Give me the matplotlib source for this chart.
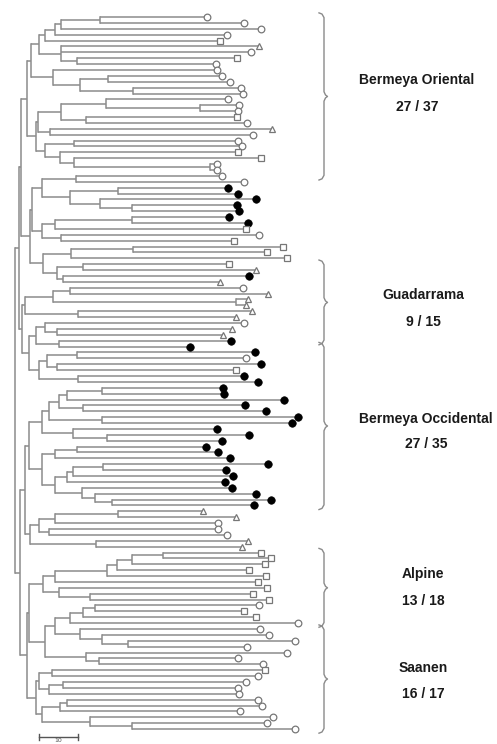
import matplotlib
matplotlib.use("Agg")
import matplotlib.pyplot as plt

# ---------------- data ----------------
# tip (leaf end) positions, leaves listed top to bottom
tip_x = [207, 244, 261, 227, 220, 259, 251, 237, 216, 217,
         222, 230, 241, 243, 228, 239, 238, 237, 247, 272,
         253, 238, 242, 238, 261, 217, 217, 222, 244, 228,
         238, 256, 237, 239, 229, 248, 246, 259, 234, 283,
         267, 287, 229, 256, 249, 220, 243, 268, 248, 246,
         252, 236, 244, 232, 223, 231, 190, 255, 246, 261,
         236, 244, 258, 223, 224, 284, 245, 266, 298, 292,
         217, 249, 222, 206, 218, 230, 268, 226, 233, 225,
         232, 256, 271, 254, 203, 236, 218, 218, 227, 248,
         242, 261, 271, 265, 249, 266, 258, 267, 253, 269,
         259, 244, 256, 298, 260, 269, 295, 247, 287, 238,
         263, 265, 258, 246, 238, 239, 258, 262, 240, 273,
         267, 295]
# o open circle, s open square, t open triangle, f filled circle
tip_marker = "".join([
    "oooostosoo", "ooooooosot", "ooossoooof", "ffffffsoss",
    "ssstftottt", "ttottfffof", "sfffffffff", "ffffffffff",
    "ffffttooot", "tsssssssss", "ossooooooo", "osoooooooo", "oo"])

# clades: (children)node_position
C1 = "(((((1,2)100,3)61,4)55,5)45,(6,7,(8,9)77)61)39"
C2 = "(10,((11,12)108,(13,14)133)80)53"
C3 = "(((15,(16,17)200)106,(18,19)86)61,(20,21)50)38"
C4 = "((22,23)74,(24,(25,(26,27)210)74)60)45"
C5 = "((28,29)76,((30,31)118,(32,(33,34)132)100)70)42"
C6 = "(((35,36)132,37)55,(38,39)61)42"
C7 = "(((40,41)133,42)71,((43,44)83,(45,46)63)57)43"
M1 = "(((47,48)70,(49,50)236)53,(51,52)78)25"
M2 = "(((53,(54,55)57)45,(56,57)59)36,(((58,59)77,(60,61)57)47,(62,63)78)39)29"
FA = "(((((64,65)102,66)67,(67,68)83)59,(69,70)102)49,(71,(72,73)107)73)42"
F2 = "(((74,75)77,76)55,((((77,78)103,79)73,80)67,(81,(82,(83,84)112)95)82)55)42"
H1 = "((((85,86)118,87)55,(88,89)49)39,(90,91)96)30"
AL1 = "(((((92,93)163,94)132,95)117,96)107,97)55"
AL2 = "(98,(99,100)90)59"
AL3 = "((((101,102)95,103)83,104)70,(105,(106,(107,108)128)102)80)55"
AL4 = "(109,(110,111)99)86"
SA1 = "((112,113)52,((114,115)63,116)49)39"
SA2 = "(((117,118)67,119)60,(120,(121,122)132)90)42"

BO = f"(({C1},{C2})31,({C3},{C4})36)27"
TOP = f"({BO},(({C5},{C6})32,{C7})30)21"
MID = f"({M1},{M2})22"
FIL = f"({FA},{F2})29"
ALP = f"(({AL1},{AL2})43,({AL3},{AL4})45)29"
SAA = f"({SA1},{SA2})36"
tree = f"(({TOP},{MID})19,(({FIL},{H1})25,({ALP},{SAA})27)20)15"

group_names = ["Bermeya Oriental", "Guadarrama", "Bermeya Occidental", "Alpine", "Saanen"]
group_counts = ["27 / 37", "9 / 15", "27 / 35", "13 / 18", "16 / 17"]
group_first = [1, 43, 57, 92, 105]
group_last = [28, 56, 84, 104, 122]
label_x = [417, 423, 426, 423, 423]
name_y = [11.7, 48.2, 69.3, 95.6, 111.6]
count_y = [16.3, 52.8, 73.6, 100.2, 116.0]
scale_label = "10"

# ---------------- parse ----------------
def parse(s):
    pos = 0

    def num():
        nonlocal pos
        st = pos
        while pos < len(s) and (s[pos].isdigit() or s[pos] == '.'):
            pos += 1
        return float(s[st:pos])

    def node():
        nonlocal pos
        if s[pos] == '(':
            pos += 1
            kids = [node()]
            while s[pos] == ',':
                pos += 1
                kids.append(node())
            pos += 1  # ')'
            return ('n', num(), kids)
        return ('l', int(num()))
    return node()

root = parse(tree)

LINE = "#8c8c8c"
LW = 1.1
fig = plt.figure(figsize=(4.97, 7.44), dpi=100)
ax = fig.add_axes([0, 0, 1, 1])
ax.set_xlim(0, 497)
ax.set_ylim(124.54, -1.889)
ax.axis('off')

styles = {
    'o': dict(marker='o', ms=4.8, mfc='white', mec='#777777', mew=0.9),
    's': dict(marker='s', ms=4.4, mfc='white', mec='#777777', mew=0.9),
    't': dict(marker='^', ms=4.8, mfc='white', mec='#777777', mew=0.9),
    'f': dict(marker='o', ms=5.4, mfc='black', mec='black', mew=0.5),
}

def draw(n):
    if n[0] == 'l':
        i = n[1]
        return tip_x[i - 1], float(i)
    x = n[1]
    res = [draw(k) for k in n[2]]
    ys = [r[1] for r in res]
    for cx, cy in res:
        ax.plot([x, cx], [cy, cy], color=LINE, lw=LW, solid_capstyle='butt', zorder=1)
    ax.plot([x, x], [min(ys), max(ys)], color=LINE, lw=LW, zorder=1)
    return x, (min(ys) + max(ys)) / 2

draw(root)

for i, (tx, m) in enumerate(zip(tip_x, tip_marker), start=1):
    ax.plot([tx], [i], linestyle='none', zorder=3, **styles[m])

# brackets
for name, cnt, a, b, lx, ny, cy in zip(group_names, group_counts, group_first,
                                       group_last, label_x, name_y, count_y):
    ya, yb = a - 0.7, b + 0.7
    ym = (ya + yb) / 2
    bx = 324
    xs = [319, 322, bx, bx, bx + 1.5, bx + 3.5, bx + 1.5, bx, bx, 322, 319]
    ys = [ya, ya + 0.2, ya + 0.8, ym - 0.8, ym - 0.25, ym, ym + 0.25, ym + 0.8,
          yb - 0.8, yb - 0.2, yb]
    ax.plot(xs, ys, color="#8a8a8a", lw=1.0)
    ax.text(lx, ny, name, ha='center', va='center', fontsize=10,
            fontweight='bold', family='Liberation Sans', color='#1a1a1a')
    ax.text(lx, cy, cnt, ha='center', va='center', fontsize=10,
            fontweight='bold', family='Liberation Sans', color='#1a1a1a')

# scale bar
sy = 123.4
ax.plot([39, 78], [sy, sy], color='#555555', lw=1.0)
ax.plot([39, 39], [sy - 0.5, sy + 0.5], color='#555555', lw=1.0)
ax.plot([78, 78], [sy - 0.5, sy + 0.5], color='#555555', lw=1.0)
ax.text(58.5, 124.45, scale_label, ha='center', va='bottom', fontsize=4.5,
        color='#555555')

fig.savefig("out.png", dpi=100, facecolor='white')
